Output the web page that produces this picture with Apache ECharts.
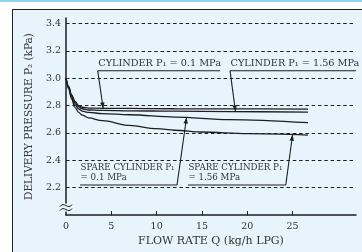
<!DOCTYPE html>
<html><head><meta charset="utf-8">
<script src="https://cdn.jsdelivr.net/npm/echarts@6/dist/echarts.min.js"></script>
<style>
html,body{margin:0;padding:0;background:#fff;}
#wrap{position:relative;width:362px;height:252px;overflow:hidden;background:#fff;}
#strip{position:absolute;left:0;top:0;width:362px;height:2px;background:#8ed4f2;}
#frame{position:absolute;left:12px;top:9px;width:360px;height:260px;background:#e8f4fc;border-left:1.5px solid #222;border-top:1.5px solid #222;}
#c{position:absolute;left:0;top:0;width:362px;height:252px;}
</style>
</head><body>
<div id="wrap"><div id="strip"></div><div id="frame"></div><div id="c"></div></div>
<script>
// ---- data ----
const xTickLabels = [0, 5, 10, 15, 20, 25];
const yTickLabels = [2.2, 2.4, 2.6, 2.8, 3.0, 3.2, 3.4];

const flowCyl01 = [0, 0.3, 0.6, 1, 1.4, 1.8, 2.5, 4, 7, 12, 18, 26.7];
const presCyl01 = [3.0, 2.94, 2.88, 2.83, 2.80, 2.788, 2.782, 2.780, 2.779, 2.777, 2.776, 2.774];

const flowCyl156 = [0, 0.3, 0.6, 1, 1.4, 1.8, 2.5, 4, 7, 12, 18, 26.7];
const presCyl156 = [3.0, 2.935, 2.875, 2.82, 2.79, 2.777, 2.768, 2.765, 2.762, 2.759, 2.756, 2.752];

const flowSpare01 = [0, 0.3, 0.6, 1, 1.4, 1.8, 2.5, 4, 7, 12, 18, 26.7];
const presSpare01 = [3.0, 2.93, 2.865, 2.805, 2.775, 2.76, 2.75, 2.742, 2.733, 2.716, 2.698, 2.675];

const flowSpare156 = [0, 0.3, 0.6, 1, 1.4, 1.8, 2.5, 4, 7, 10, 12, 15, 20, 26.7];
const presSpare156 = [3.0, 2.92, 2.85, 2.785, 2.75, 2.73, 2.71, 2.69, 2.655, 2.632, 2.62, 2.607, 2.595, 2.585];

const seriesNames = ['CYLINDER P₁ = 0.1 MPa', 'CYLINDER P₁ = 1.56 MPa', 'SPARE CYLINDER P₁ = 0.1 MPa', 'SPARE CYLINDER P₁ = 1.56 MPa'];

// annotation text lines, underline start/end (data coords) and arrow tip (data coords)
const annoText = [['CYLINDER P₁ = 0.1 MPa'], ['CYLINDER P₁ = 1.56 MPa'], ['SPARE CYLINDER P₁', '= 0.1 MPa'], ['SPARE CYLINDER P₁', '= 1.56 MPa']];
const annoLineStart = [[3.5, 3.055], [18.1, 3.055], [1.55, 2.22], [13.45, 2.22]];
const annoLineEnd = [[17.0, 3.055], [32, 3.055], [12.25, 2.22], [24.25, 2.22]];
const annoTip = [[4.1, 2.779], [18.7, 2.757], [13.3, 2.713], [25.0, 2.587]];

const FONT = "'DejaVu Serif', 'Liberation Serif', serif";
const INK = '#1e1e1e';
const TXT = '#333';

const chart = echarts.init(document.getElementById('c'), null, {renderer: 'canvas'});

function pairs(xs, ys) { return xs.map((x, i) => [x, ys[i]]); }
const allData = [pairs(flowCyl01, presCyl01), pairs(flowCyl156, presCyl156), pairs(flowSpare01, presSpare01), pairs(flowSpare156, presSpare156)];

chart.setOption({
  animation: false,
  grid: {left: 66, right: 6, top: 18, bottom: 36},
  xAxis: {
    type: 'value', min: 0, max: 32, interval: 5,
    name: 'FLOW RATE Q (kg/h LPG)', nameLocation: 'middle', nameGap: 17,
    nameTextStyle: {fontFamily: FONT, fontSize: 11, color: TXT},
    axisLine: {lineStyle: {color: INK, width: 1.5}},
    axisTick: {show: true, inside: true, length: 4, lineStyle: {color: INK}, customValues: [5, 10, 15, 20, 25]},
    axisLabel: {fontFamily: FONT, fontSize: 9.5, color: TXT, margin: 6, customValues: xTickLabels},
    splitLine: {show: false}
  },
  yAxis: {
    type: 'value', min: 2.0, max: 3.44, interval: 0.2,
    name: 'DELIVERY PRESSURE P₂ (kPa)', nameLocation: 'middle', nameGap: 27,
    nameTextStyle: {fontFamily: FONT, fontSize: 10.5, color: TXT},
    axisLine: {show: true, lineStyle: {color: INK, width: 1.5}},
    axisTick: {show: false},
    axisLabel: {fontFamily: FONT, fontSize: 9.5, color: TXT, margin: 5,
      customValues: yTickLabels, formatter: v => v.toFixed(1)},
    splitLine: {show: true, showMinLine: false, showMaxLine: false, lineStyle: {color: INK, width: 1, type: [3.5, 2.8]}}
  },
  series: allData.map((d, i) => ({
    name: seriesNames[i], type: 'line', data: d, showSymbol: false,
    smooth: 0.35, smoothMonotone: 'x',
    lineStyle: {color: INK, width: 1.3}, z: 3
  }))
});

// ---- annotations (positioned via the chart's coordinate system) ----
const P = p => chart.convertToPixel({gridIndex: 0}, p);
const g = [];
annoText.forEach((lines, i) => {
  const a = P(annoLineStart[i]), b = P(annoLineEnd[i]), t = P(annoTip[i]);
  const big = lines.length === 1;
  g.push({type: 'text', x: a[0] + 0.5, y: a[1] - 1.5, style: {
    text: lines.join('\n'), fill: TXT, font: (big ? 9.7 : 8.7) + 'px ' + FONT,
    textAlign: 'left', textVerticalAlign: 'bottom', lineHeight: 10.5}, z: 20});
  g.push({type: 'polyline', shape: {points: [b, a]}, style: {stroke: INK, lineWidth: 1.1, fill: null}, z: 20});
  const s = big ? a : b;
  g.push({type: 'line', shape: {x1: s[0], y1: s[1], x2: t[0], y2: t[1]}, style: {stroke: INK, lineWidth: 1.1}, z: 20});
  const dx = t[0] - s[0], dy = t[1] - s[1], L = Math.hypot(dx, dy), ux = dx / L, uy = dy / L;
  const hl = 6, hw = 2.2;
  g.push({type: 'polygon', shape: {points: [t, [t[0] - ux * hl - uy * hw, t[1] - uy * hl + ux * hw], [t[0] - ux * hl + uy * hw, t[1] - uy * hl - ux * hw]]},
    style: {fill: INK}, z: 21});
});
// axis break mark
const br = P([0, 2.055]);
g.push({type: 'rect', shape: {x: br[0] - 3, y: br[1] - 4, width: 6, height: 8}, style: {fill: '#e8f4fc'}, z: 22});
[-2, 2].forEach(off => {
  g.push({type: 'bezierCurve', shape: {x1: br[0] - 6, y1: br[1] + off + 1, x2: br[0] + 6, y2: br[1] + off - 1,
    cpx1: br[0] - 2, cpy1: br[1] + off - 5, cpx2: br[0] + 2, cpy2: br[1] + off + 5}, style: {stroke: INK, lineWidth: 1, fill: null}, z: 23});
});
chart.setOption({graphic: g});
</script>
</body></html>
